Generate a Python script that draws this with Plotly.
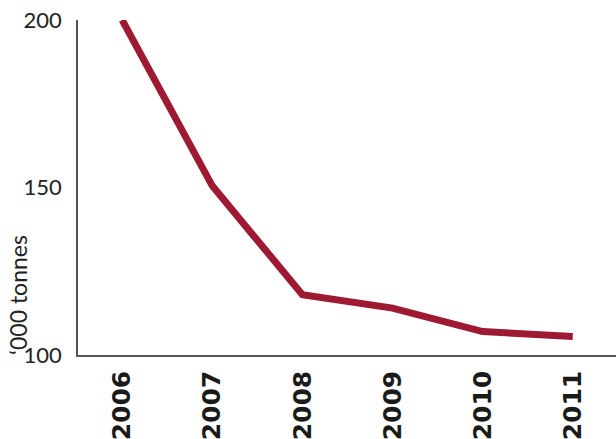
import plotly.graph_objects as go

years = ["2006", "2007", "2008", "2009", "2010", "2011"]
values = [200, 150.5, 118, 114, 107, 105.5]
y_ticks = [100, 150, 200]

fig = go.Figure()
fig.add_trace(go.Scatter(
    x=years, y=values, mode="lines",
    line=dict(color="#9e1a32", width=7),
    hoverinfo="skip",
))

fig.update_layout(
    width=616, height=439,
    margin=dict(l=78, r=0, t=20, b=84),
    paper_bgcolor="white", plot_bgcolor="white",
    showlegend=False,
    xaxis=dict(
        type="category", range=[-0.49, 5.48],
        showgrid=False, zeroline=False,
        showline=True, linecolor="#555555", linewidth=1.5,
        ticks="", tickangle=-90,
        tickfont=dict(family="DejaVu Sans", size=25, color="#1a1a1a", weight="bold"),
        ticklabelstandoff=4,
    ),
    yaxis=dict(
        range=[100, 200], tickvals=y_ticks,
        showgrid=False, zeroline=False,
        showline=True, linecolor="#555555", linewidth=1.5,
        ticks="",
        tickfont=dict(family="Lato", size=22, color="#222222", weight=400),
        ticklabelstandoff=10,
    ),
    annotations=[dict(
        text="\u2018000 tonnes", xref="paper", yref="paper",
        x=-0.113, y=0.18, xanchor="center", yanchor="middle",
        textangle=-90, showarrow=False,
        font=dict(family="Lato", size=23, color="#222222", weight=400),
    )],
)

fig.write_html("out.html")
